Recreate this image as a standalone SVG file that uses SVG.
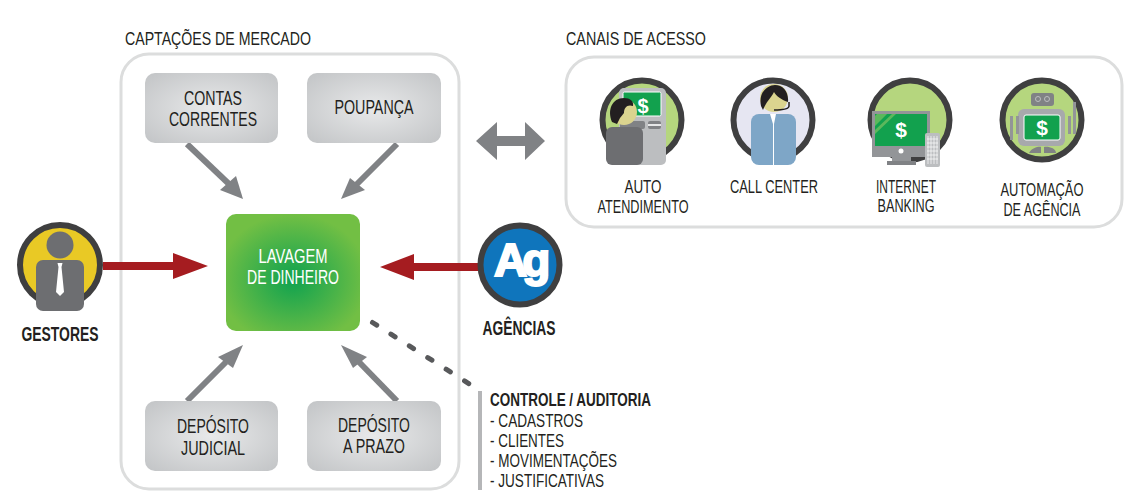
<svg xmlns="http://www.w3.org/2000/svg" width="1126" height="499" viewBox="0 0 1126 499">
<style>
text{font-family:"Liberation Sans",Arial,sans-serif;fill:#231f20;font-size:18px;text-anchor:middle}
.s{text-anchor:start}
.b{font-weight:bold}
.t{font-size:19.5px}
.w{fill:#fff}
.frame{fill:#fff;stroke:#dcdddd;stroke-width:3}
.box{fill:url(#g)}
.ring{stroke:#3f3f40;stroke-width:6}
.lg{fill:#b5d67e}
.scr{fill:#12a14e}
.d{font-weight:bold;fill:#fff;font-size:22px}
.red{fill:#a51c20}
.ga{fill:#808285}
</style>
<defs>
<radialGradient id="g" cx="0.5" cy="0.5" r="0.7"><stop offset="0" stop-color="#e8e9ea"/><stop offset="1" stop-color="#c2c4c6"/></radialGradient>
<radialGradient id="gr" cx="0.5" cy="0.56" r="0.56"><stop offset="0" stop-color="#0fa24f"/><stop offset="1" stop-color="#72bf44"/></radialGradient>
</defs>
<rect class="frame" x="121" y="54" width="338" height="435" rx="28"/>
<rect class="frame" x="566" y="57" width="556" height="170" rx="28"/>
<text class="s" x="125" y="45" textLength="186" lengthAdjust="spacingAndGlyphs">CAPTAÇÕES DE MERCADO</text>
<text class="s" x="566" y="45" textLength="140" lengthAdjust="spacingAndGlyphs">CANAIS DE ACESSO</text>
<g id="connectors">
<path class="red" d="M103 262H173V253L208 266L173 279V270H103Z"/>
<path class="red" d="M478 263H414V254L380 267L414 280V271H478Z"/>
<path class="ga" d="M476 141L497 122V136H525V122L545 141L525 160V146H497V160Z"/>
<g fill="none" stroke="#808285" stroke-width="6">
<path d="M187 144L229 184"/><path d="M397 144L356 185"/><path d="M187 401L226 362"/><path d="M397 401L359 362"/>
</g>
<path class="ga" d="M243 199L220 190L236 176Z"/>
<path class="ga" d="M341 199L350 178L365 190Z"/>
<path class="ga" d="M243 345L218 357L233 368Z"/>
<path class="ga" d="M341 345L353 368L367 357Z"/>
<path d="M372.500 322.500L471 385" fill="none" stroke="#58595b" stroke-width="5" stroke-linecap="round" stroke-dasharray="5 16.800"/>
</g>
<g id="contas"><rect class="box" x="145" y="73" width="133" height="70" rx="10"/><text class="t" x="213" y="105" textLength="58" lengthAdjust="spacingAndGlyphs">CONTAS</text><text class="t" x="213" y="126" textLength="88" lengthAdjust="spacingAndGlyphs">CORRENTES</text></g>
<g id="poupanca"><rect class="box" x="307" y="73" width="134" height="70" rx="10"/><text class="t" x="374" y="114" textLength="79" lengthAdjust="spacingAndGlyphs">POUPANÇA</text></g>
<g id="judicial"><rect class="box" x="145" y="401" width="133" height="70" rx="10"/><text class="t" x="213" y="433" textLength="72" lengthAdjust="spacingAndGlyphs">DEPÓSITO</text><text class="t" x="213" y="455" textLength="64" lengthAdjust="spacingAndGlyphs">JUDICIAL</text></g>
<g id="prazo"><rect class="box" x="307" y="401" width="134" height="70" rx="10"/><text class="t" x="374" y="432" textLength="72" lengthAdjust="spacingAndGlyphs">DEPÓSITO</text><text class="t" x="374" y="453" textLength="62" lengthAdjust="spacingAndGlyphs">A PRAZO</text></g>
<g id="lavagem"><rect x="226" y="214" width="134" height="117" rx="10" fill="url(#gr)"/><text class="t w" x="293" y="263" textLength="69" lengthAdjust="spacingAndGlyphs">LAVAGEM</text><text class="t w" x="293" y="284" textLength="92" lengthAdjust="spacingAndGlyphs">DE DINHEIRO</text></g>
<g id="gestores">
<circle class="ring" cx="60" cy="265" r="40" fill="#e9c925"/>
<circle cx="60" cy="245" r="13.500" fill="#6d6e71"/>
<rect x="36" y="260" width="48" height="51" rx="7" fill="#6d6e71"/>
<path d="M57.500 263H62.500L61.500 267L64 292L60 296L56 292L58.500 267Z" fill="#fff"/>
<text class="b" x="60" y="341" textLength="77" lengthAdjust="spacingAndGlyphs" style="font-size:20px">GESTORES</text>
</g>
<g id="agencias">
<circle class="ring" cx="520" cy="265" r="39.500" fill="#0f75bc"/>
<text x="494" y="276" class="s w b" style="font-size:46px;stroke:#fff;stroke-width:2;letter-spacing:-5px">Ag</text>
<text class="b" x="519" y="335" textLength="73" lengthAdjust="spacingAndGlyphs" style="font-size:20px">AGÊNCIAS</text>
</g>
<g id="auto">
<circle class="ring lg" cx="642" cy="120" r="39.500"/>
<rect x="619" y="88" width="47" height="77" rx="5" fill="#bcbec0"/>
<rect x="623" y="92" width="38" height="24" rx="1.500" class="scr" stroke="#fff"/>
<text class="d" x="643" y="113" style="font-size:20px">$</text>
<rect x="648" y="121" width="13" height="8" rx="2" fill="#808285"/><rect x="648" y="124" width="13" height="2" fill="#e6e7e8"/>
<rect x="620" y="121" width="25" height="8" rx="2" fill="#808285"/>
<circle cx="624" cy="112" r="13" fill="#dbd48f"/>
<path d="M612 122C607 110 612 98 624 98C630 98 634 101 633 106C627 104 624 108 624 113L620 118L617 124Z" fill="#231f20"/>
<rect x="606" y="127" width="37" height="38" rx="6" fill="#6d6e71"/>
<text x="643" y="193" textLength="37" lengthAdjust="spacingAndGlyphs">AUTO</text><text x="643" y="213" textLength="91" lengthAdjust="spacingAndGlyphs">ATENDIMENTO</text>
</g>
<g id="callcenter">
<circle class="ring" cx="773" cy="120" r="39.500" fill="#e6e6f2"/>
<rect x="751" y="114" width="45" height="51" rx="8" fill="#7ea6c7"/>
<path d="M770 114L773 124V165H774V124L776 114Z" fill="#fff"/>
<circle cx="774" cy="98" r="14" fill="#dbd48f"/>
<path d="M761 106C758 92 768 85 775 85C783 85 789 92 788 102C782 100 776 96 774 92C771 98 766 102 763 110Z" fill="#231f20"/>
<path d="M789 102V106C789 109 784 110 774 110" fill="none" stroke="#231f20" stroke-width="1.500"/>
<text x="774" y="193" textLength="88" lengthAdjust="spacingAndGlyphs">CALL CENTER</text>
</g>
<g id="internet">
<circle class="ring lg" cx="910" cy="120" r="39.500"/>
<rect x="872" y="111" width="58" height="46" fill="#939598"/>
<rect x="875" y="114" width="52" height="32" class="scr"/>
<path d="M877 114H887L875 126V116ZM892 114H896L875 134V130Z" fill="#5cb85c"/>
<text class="d" x="901" y="137" style="font-size:21px">$</text>
<circle cx="901" cy="151" r="2.500" fill="#fff"/>
<rect x="892" y="157" width="19" height="4" fill="#939598"/><rect x="887" y="161" width="29" height="4" fill="#808285"/>
<rect x="925" y="133" width="15" height="34" rx="2" fill="#bcbec0"/>
<path d="M928 136V164M931 136V164M934 136V164M937 136V164M927 139H938M927 143H938M927 147H938M927 151H938M927 155H938M927 159H938" stroke="#fff" stroke-width=".7"/>
<text x="906" y="193" textLength="60" lengthAdjust="spacingAndGlyphs">INTERNET</text><text x="906" y="212" textLength="57" lengthAdjust="spacingAndGlyphs">BANKING</text>
</g>
<g id="automacao">
<circle class="ring lg" cx="1042" cy="120" r="39.500"/>
<rect x="1031" y="93" width="23" height="13" rx="3" fill="#808285"/>
<circle cx="1038" cy="99" r="2.500" fill="none" stroke="#bcbec0"/><circle cx="1047" cy="99" r="2.500" fill="none" stroke="#bcbec0"/>
<rect x="1018" y="109" width="47" height="37" rx="6" fill="#a7a9ac"/>
<rect x="1024" y="115" width="36" height="25" rx="2" class="scr" stroke="#fff"/>
<text class="d" x="1042" y="135" style="font-size:21px">$</text>
<rect x="1010" y="116" width="3" height="24" fill="#939598"/><rect x="1016" y="116" width="3" height="18" fill="#939598"/>
<rect x="1068" y="116" width="3" height="18" fill="#939598"/><rect x="1073" y="102" width="3" height="32" fill="#939598"/>
<path d="M1029 153C1032 147 1040 146 1041 147V153ZM1044 147C1048 146 1056 148 1056 153H1044Z" fill="#808285"/>
<text x="1042" y="196" textLength="83" lengthAdjust="spacingAndGlyphs">AUTOMAÇÃO</text><text x="1042" y="216" textLength="77" lengthAdjust="spacingAndGlyphs">DE AGÊNCIA</text>
</g>
<g id="controle">
<rect x="478" y="391" width="4" height="99" fill="#b5b6b8"/>
<text class="s b" x="490" y="406" textLength="161" lengthAdjust="spacingAndGlyphs">CONTROLE / AUDITORIA</text>
<text class="s" x="490" y="427" textLength="93" lengthAdjust="spacingAndGlyphs">- CADASTROS</text>
<text class="s" x="490" y="447" textLength="74" lengthAdjust="spacingAndGlyphs">- CLIENTES</text>
<text class="s" x="490" y="467" textLength="127" lengthAdjust="spacingAndGlyphs">- MOVIMENTAÇÕES</text>
<text class="s" x="490" y="487" textLength="114" lengthAdjust="spacingAndGlyphs">- JUSTIFICATIVAS</text>
</g>
</svg>
